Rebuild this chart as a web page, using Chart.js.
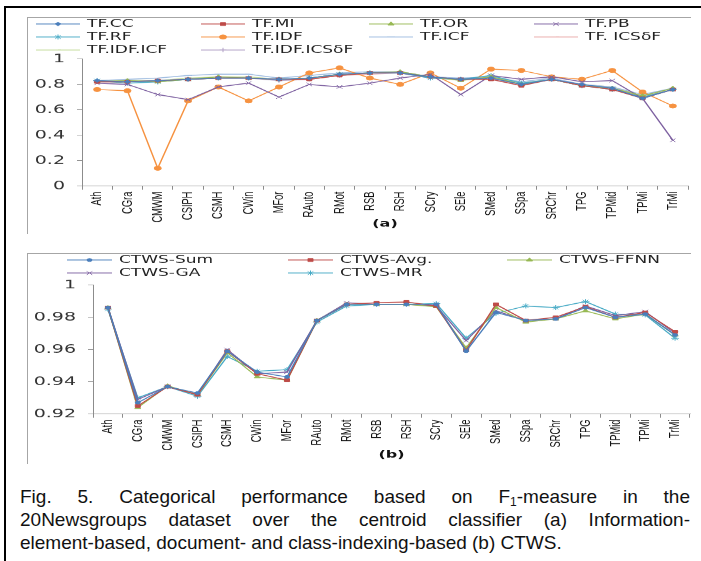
<!DOCTYPE html>
<html lang="en">
<head>
<meta charset="UTF-8">
<title>Categorical performance (F1)</title>
<script src="https://cdn.jsdelivr.net/npm/chart.js"></script>
<style>
  body { margin: 0; width: 701px; height: 561px; background: #fff; position: relative; overflow: hidden;
         font-family: "Liberation Sans", Arial, sans-serif; }
  .frame { position: absolute; left: 4px; top: 6px; width: 697px; height: 555px;
           border-top: 2px solid #000; border-left: 2px solid #000; }
  .box { position: absolute; left: 27px; width: 663px; border-top: 1px solid #a6a6a6; border-left: 1px solid #a6a6a6; }
  #boxA { top: 17px; height: 216px; }
  #boxB { top: 253px; height: 210px; }
  .squash { position: absolute; left: 27px; width: 673px; transform: scaleY(0.62); transform-origin: 0 0; }
  #wrapA { top: 17px; height: 348px; }
  #wrapB { top: 253px; height: 339px; }
  .caption { position: absolute; left: 20px; width: 670px; top: 485px; font-size: 19px; line-height: 23px; color: #111; }
  .caption div { height: 23px; text-align: justify; text-align-last: justify; }
  .caption div.last { text-align-last: left; }
  .caption sub { font-size: 12px; line-height: 0; vertical-align: -3px; }
</style>
</head>
<body>
<div class="frame"></div>
<div class="box" id="boxA"></div>
<div class="box" id="boxB"></div>
<div class="squash" id="wrapA"><canvas id="chartA"></canvas></div>
<div class="squash" id="wrapB"><canvas id="chartB"></canvas></div>
<div class="caption">
  <div>Fig. 5. Categorical performance based on F<sub>1</sub>-measure in the</div>
  <div>20Newsgroups dataset over the centroid classifier (a) Information-</div>
  <div class="last">element-based, document- and class-indexing-based (b) CTWS.</div>
</div>

<script>
// categories shared by both panels
const categories = ['Ath', 'CGra', 'CMWM', 'CSIPH', 'CSMH', 'CWin', 'MFor', 'RAuto', 'RMot', 'RSB',
                    'RSH', 'SCry', 'SEle', 'SMed', 'SSpa', 'SRChr', 'TPG', 'TPMid', 'TPMi', 'TrMi'];

// (a) information-element / document / class indexing
const tfCC      = [0.83, 0.82, 0.83, 0.84, 0.85, 0.85, 0.84, 0.85, 0.88, 0.89, 0.89, 0.86, 0.84, 0.85, 0.80, 0.84, 0.80, 0.77, 0.69, 0.76];
const tfMI      = [0.82, 0.82, 0.83, 0.84, 0.85, 0.85, 0.84, 0.84, 0.87, 0.89, 0.89, 0.86, 0.84, 0.84, 0.79, 0.84, 0.79, 0.76, 0.69, 0.76];
const tfOR      = [0.82, 0.83, 0.82, 0.84, 0.86, 0.85, 0.84, 0.85, 0.88, 0.89, 0.90, 0.86, 0.83, 0.86, 0.80, 0.84, 0.79, 0.77, 0.71, 0.77];
const tfPB      = [0.81, 0.80, 0.72, 0.68, 0.78, 0.81, 0.70, 0.80, 0.78, 0.81, 0.85, 0.88, 0.72, 0.87, 0.84, 0.86, 0.82, 0.83, 0.69, 0.36];
const tfRF      = [0.83, 0.81, 0.82, 0.84, 0.85, 0.85, 0.84, 0.85, 0.88, 0.89, 0.89, 0.85, 0.84, 0.87, 0.81, 0.84, 0.79, 0.76, 0.70, 0.76];
const tfIDF     = [0.76, 0.75, 0.14, 0.67, 0.78, 0.67, 0.78, 0.89, 0.93, 0.85, 0.80, 0.89, 0.77, 0.92, 0.91, 0.86, 0.84, 0.91, 0.74, 0.63];
const tfICF     = [0.83, 0.84, 0.85, 0.87, 0.88, 0.88, 0.85, 0.87, 0.89, 0.90, 0.90, 0.86, 0.85, 0.86, 0.82, 0.85, 0.80, 0.78, 0.72, 0.77];
const tfICSdF   = [0.82, 0.82, 0.83, 0.84, 0.85, 0.85, 0.84, 0.84, 0.87, 0.88, 0.89, 0.86, 0.84, 0.85, 0.80, 0.84, 0.80, 0.77, 0.70, 0.76];
const tfIDFICF  = [0.83, 0.83, 0.83, 0.85, 0.86, 0.86, 0.84, 0.85, 0.88, 0.89, 0.90, 0.86, 0.84, 0.86, 0.81, 0.84, 0.80, 0.78, 0.71, 0.77];
const tfIDFICSd = [0.82, 0.82, 0.82, 0.84, 0.85, 0.85, 0.83, 0.84, 0.87, 0.89, 0.89, 0.85, 0.84, 0.85, 0.80, 0.84, 0.79, 0.77, 0.70, 0.76];
const yTicksA = [0, 0.1, 0.2, 0.3, 0.4, 0.5, 0.6, 0.7, 0.8, 0.9, 1];

// (b) CTWS variants
const ctwsSum  = [0.986, 0.927, 0.937, 0.933, 0.959, 0.946, 0.943, 0.978, 0.988, 0.988, 0.988, 0.988, 0.959, 0.983, 0.978, 0.979, 0.986, 0.980, 0.982, 0.969];
const ctwsAvg  = [0.986, 0.925, 0.937, 0.932, 0.959, 0.945, 0.941, 0.978, 0.988, 0.989, 0.9895, 0.987, 0.9595, 0.988, 0.978, 0.980, 0.9865, 0.980, 0.983, 0.971];
const ctwsFFNN = [0.986, 0.924, 0.9375, 0.932, 0.958, 0.943, 0.941, 0.978, 0.988, 0.988, 0.988, 0.9865, 0.961, 0.986, 0.977, 0.979, 0.984, 0.979, 0.982, 0.969];
const ctwsGA   = [0.986, 0.929, 0.937, 0.932, 0.960, 0.945, 0.946, 0.978, 0.989, 0.988, 0.988, 0.987, 0.9655, 0.984, 0.978, 0.979, 0.987, 0.981, 0.9835, 0.970];
const ctwsMR   = [0.985, 0.930, 0.937, 0.931, 0.9557, 0.9465, 0.9475, 0.977, 0.987, 0.988, 0.988, 0.9885, 0.967, 0.9824, 0.987, 0.986, 0.9897, 0.982, 0.9815, 0.967];
const yTicksB = [0.92, 0.94, 0.96, 0.98, 1];

Chart.defaults.font.family = 'DejaVu Sans';
Chart.defaults.animation = false;

function formatTick(v) { return String(+v.toFixed(2)); }

function makeSet(label, data, color, style, radius) {
  return {
    label: label, data: data,
    borderColor: color, backgroundColor: color,
    pointBorderColor: color, pointBackgroundColor: color,
    pointStyle: style, pointRadius: radius, pointBorderWidth: 1,
    borderWidth: 1.5, tension: 0, fill: false
  };
}

// legend laid out in fixed columns, like the original spreadsheet figure
const columnLegend = {
  id: 'columnLegend',
  afterDraw(chart, args, opts) {
    const ctx = chart.ctx;
    const n = opts.cols.length;
    ctx.save();
    chart.data.datasets.forEach((ds, i) => {
      const x0 = opts.cols[i % n];
      const y = opts.rows[Math.floor(i / n)];
      ctx.strokeStyle = ds.borderColor;
      ctx.fillStyle = ds.pointBackgroundColor;
      ctx.lineWidth = 1.5;
      ctx.beginPath();
      ctx.moveTo(x0, y);
      ctx.lineTo(x0 + opts.lineLen, y);
      ctx.stroke();
      ctx.lineWidth = 1;
      Chart.helpers.drawPoint(ctx, { pointStyle: ds.pointStyle, radius: ds.pointRadius, borderWidth: 1, rotation: 0 },
                              x0 + opts.lineLen / 2, y);
      ctx.fillStyle = opts.color;
      ctx.font = opts.font;
      ctx.textBaseline = 'middle';
      ctx.textAlign = 'left';
      ctx.fillText(ds.label, x0 + opts.lineLen + opts.gap, y);
    });
    ctx.restore();
  }
};

function axisX(title, h) {
  return {
    type: 'category', offset: true,
    grid: { offset: true, drawOnChartArea: false, drawTicks: true, tickLength: 6, color: '#8c8c8c' },
    border: { display: true, color: '#8c8c8c', width: 1 },
    ticks: { minRotation: 90, maxRotation: 90, autoSkip: false, padding: 3, color: '#111',
             font: { family: 'Liberation Sans', size: 15 } },
    title: { display: true, text: title, color: '#111', padding: { top: 0, bottom: 0 },
             font: { family: 'DejaVu Sans', size: 16, weight: 'bold' } },
    afterFit: s => { s.height = h; }
  };
}

function axisY(min, max, ticks, w) {
  return {
    min: min, max: max,
    afterBuildTicks: s => { s.ticks = ticks.map(v => ({ value: v })); },
    grid: { drawOnChartArea: false, tickLength: 5, color: '#8c8c8c' },
    border: { display: true, color: '#8c8c8c', width: 1 },
    ticks: { padding: 12, color: '#333', font: { family: 'DejaVu Sans', size: 19 }, callback: v => formatTick(v) },
    afterFit: s => { s.width = w; }
  };
}

new Chart(document.getElementById('chartA'), {
  type: 'line',
  data: {
    labels: categories,
    datasets: [
      makeSet('TF.CC', tfCC, '#4a7ebb', 'rectRot', 3),
      makeSet('TF.MI', tfMI, '#be4b48', 'rect', 3.5),
      makeSet('TF.OR', tfOR, '#98b954', 'triangle', 3.5),
      makeSet('TF.PB', tfPB, '#7d60a0', 'crossRot', 4),
      makeSet('TF.RF', tfRF, '#46aac5', 'star', 4),
      makeSet('TF.IDF', tfIDF, '#f69240', 'circle', 3.5),
      makeSet('TF.ICF', tfICF, '#9dbbe0', 'line', 4),
      makeSet('TF. ICS\u03B4F', tfICSdF, '#eaa9a8', 'dash', 3),
      makeSet('TF.IDF.ICF', tfIDFICF, '#c5dc9c', 'dash', 3),
      makeSet('TF.IDF.ICS\u03B4F', tfIDFICSd, '#b3a2c7', 'cross', 3.5)
    ]
  },
  options: {
    responsive: true, maintainAspectRatio: false,
    layout: { padding: { top: 67.7, right: 12, bottom: 4.5, left: 0 } },
    plugins: {
      legend: { display: false }, tooltip: { enabled: false },
      columnLegend: { cols: [9, 174, 342, 507], rows: [11.3, 32.3, 53.2], lineLen: 44, gap: 7,
                      color: '#222', font: '17px "DejaVu Sans"' }
    },
    scales: { x: axisX('(a)', 70.9), y: axisY(0, 1, yTicksA, 55) }
  },
  plugins: [columnLegend]
});

new Chart(document.getElementById('chartB'), {
  type: 'line',
  data: {
    labels: categories,
    datasets: [
      makeSet('CTWS-Sum', ctwsSum, '#4a7ebb', 'circle', 2.5),
      makeSet('CTWS-Avg.', ctwsAvg, '#be4b48', 'rect', 3.5),
      makeSet('CTWS-FFNN', ctwsFFNN, '#98b954', 'triangle', 3.5),
      makeSet('CTWS-GA', ctwsGA, '#7d60a0', 'crossRot', 4),
      makeSet('CTWS-MR', ctwsMR, '#46aac5', 'star', 4)
    ]
  },
  options: {
    responsive: true, maintainAspectRatio: false,
    layout: { padding: { top: 51.6, right: 10, bottom: 3.6, left: 0 } },
    plugins: {
      legend: { display: false }, tooltip: { enabled: false },
      columnLegend: { cols: [40, 261, 480], rows: [11.3, 32.3], lineLen: 45, gap: 7,
                      color: '#222', font: '17px "DejaVu Sans"' }
    },
    scales: { x: axisX('(b)', 75.7), y: axisY(0.92, 1, yTicksB, 66) }
  },
  plugins: [columnLegend]
});
</script>
</body>
</html>
